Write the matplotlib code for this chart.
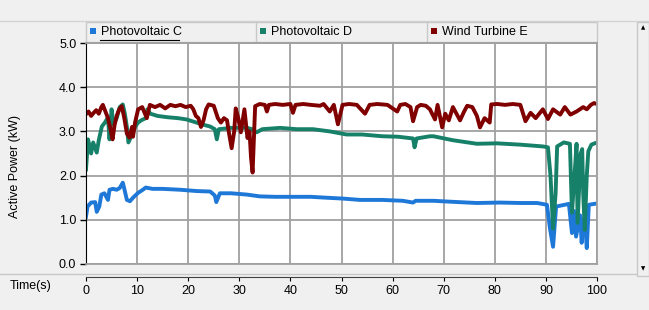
import matplotlib.pyplot as plt
from matplotlib.lines import Line2D
from matplotlib.patches import Rectangle

# Photovoltaic C (blue)
t_pv_c = [0, 0.3, 1, 1.8, 2.1, 2.6, 3, 3.6, 4.3, 4.6, 5.3, 6, 6.6, 7.2, 7.5, 8, 8.6, 9.2,
          10.2, 11, 11.7, 13, 15, 18.4, 21.7, 24.3, 25.2, 25.5, 26.2, 28.4, 31.5, 34, 37,
          40.5, 44, 47, 50.3, 53.6, 58, 62, 64, 64.5, 68, 71.2, 76.5, 81, 85, 88.3, 90.2,
          90.8, 91.4, 92, 94.5, 95.1, 95.5, 95.9, 96.7, 97, 97.3, 97.6, 98, 98.4, 100]
p_pv_c = [1.07, 1.30, 1.39, 1.40, 1.18, 1.30, 1.57, 1.60, 1.45, 1.68, 1.70, 1.68, 1.72, 1.84,
          1.70, 1.45, 1.42, 1.50, 1.61, 1.67, 1.73, 1.70, 1.70, 1.68, 1.65, 1.64, 1.55, 1.40,
          1.60, 1.60, 1.57, 1.53, 1.52, 1.52, 1.52, 1.50, 1.48, 1.45, 1.45, 1.43, 1.39, 1.43,
          1.43, 1.41, 1.38, 1.39, 1.38, 1.38, 1.34, 0.80, 0.39, 1.30, 1.36, 0.70, 1.20, 0.62,
          1.10, 0.48, 1.00, 1.05, 0.36, 1.34, 1.37]

# Photovoltaic D (green)
t_pv_d = [0, 0.4, 1, 1.4, 2.1, 2.5, 3.1, 3.7, 4.3, 4.6, 5, 5.4, 6, 6.6, 7.2, 7.6, 8, 8.3, 9,
          9.6, 10.2, 10.8, 11.7, 12, 12.6, 14, 16, 18, 19.7, 21.6, 23, 24.3, 25.2, 25.6, 26,
          28.4, 31.5, 32.5, 33.4, 34.5, 38, 41.2, 44.4, 47.7, 51, 54, 58, 61, 64, 64.3, 64.7,
          67.3, 68, 71.8, 76.5, 80.4, 85, 89.4, 90.4, 90.9, 91.4, 91.9, 92.2, 93.5, 94.7,
          95.1, 95.6, 96, 96.2, 96.8, 97.1, 97.3, 97.6, 98, 98.3, 98.9, 100]
p_pv_d = [2.14, 2.82, 2.50, 2.75, 2.52, 2.80, 3.11, 3.20, 3.32, 2.82, 3.50, 3.15, 3.30, 3.55,
          3.61, 3.40, 3.10, 2.75, 2.92, 3.10, 3.20, 3.25, 3.30, 3.50, 3.40, 3.35, 3.32, 3.30,
          3.27, 3.20, 3.15, 3.11, 3.05, 2.82, 3.05, 3.08, 3.08, 3.05, 2.98, 3.05, 3.08, 3.05,
          3.05, 3.00, 2.93, 2.93, 2.89, 2.88, 2.84, 2.64, 2.84, 2.89, 2.89, 2.80, 2.72, 2.73,
          2.70, 2.66, 2.64, 2.00, 0.80, 1.60, 2.66, 2.75, 2.72, 1.16, 2.00, 2.72, 0.93, 2.50,
          2.60, 1.60, 0.77, 2.00, 2.55, 2.70, 2.75]

# Wind Turbine E (dark red)
t_wind_e = [0, 0.5, 1, 1.5, 2, 2.5, 3, 3.3, 3.8, 4.3, 4.8, 5.2, 5.6, 6, 6.5, 7, 7.5, 8, 8.5,
            9, 9.2, 9.6, 10.2, 11, 11.9, 12.5, 13.5, 14.5, 15.5, 16.5, 17.5, 18.5, 19.5,
            20.5, 21, 21.5, 22, 22.5, 23, 23.5, 24, 25, 25.8, 26.4, 27, 27.6, 28, 28.5, 29,
            29.3, 29.8, 30.3, 31, 31.6, 32, 32.3, 32.6, 33.1, 34, 35, 35.4, 35.8, 37, 38.5,
            40, 40.5, 41, 42.5, 44, 45.8, 46.5, 47.7, 48.5, 49.3, 50.2, 51.5, 53, 54.6, 55.5,
            57, 59, 60.9, 61.5, 62.5, 63.5, 64, 64.8, 65.5, 66.5, 67.3, 68.3, 68.8, 69.7,
            70.3, 71, 71.8, 72.5, 73.2, 74, 74.6, 75.6, 76.5, 77.1, 78, 79, 79.3, 80.5, 82,
            83.5, 85, 86, 87, 88, 89.4, 90.4, 91.4, 92.8, 93.7, 94.8, 96, 97.3, 98, 98.8,
            99.4, 100]
p_wind_e = [3.39, 3.45, 3.35, 3.42, 3.48, 3.40, 3.55, 3.60, 3.45, 3.30, 3.05, 2.82, 3.15,
            3.35, 3.50, 3.57, 3.30, 2.95, 2.86, 3.10, 2.88, 3.20, 3.50, 3.55, 3.30, 3.60,
            3.55, 3.60, 3.52, 3.60, 3.57, 3.60, 3.55, 3.58, 3.50, 3.35, 3.30, 3.10, 3.25,
            3.50, 3.61, 3.58, 3.30, 3.20, 3.30, 3.25, 2.95, 2.62, 3.00, 3.52, 3.30, 2.98,
            3.50, 2.85, 3.00, 2.40, 2.07, 3.57, 3.62, 3.60, 3.45, 3.60, 3.62, 3.60, 3.62,
            3.42, 3.60, 3.62, 3.60, 3.58, 3.62, 3.45, 3.60, 3.16, 3.60, 3.62, 3.60, 3.40,
            3.60, 3.62, 3.60, 3.45, 3.60, 3.62, 3.55, 3.23, 3.55, 3.60, 3.58, 3.50, 3.27,
            3.60, 3.09, 3.40, 3.25, 3.55, 3.40, 3.25, 3.45, 3.58, 3.55, 3.35, 3.09, 3.30,
            3.20, 3.61, 3.62, 3.60, 3.62, 3.60, 3.23, 3.42, 3.30, 3.50, 3.28, 3.50, 3.38,
            3.55, 3.38, 3.45, 3.55, 3.50, 3.60, 3.64, 3.62]

series_names = ['Photovoltaic C', 'Photovoltaic D', 'Wind Turbine E']
series_colors = ['#1e78d8', '#178069', '#800000']
x_ticks = [0, 10, 20, 30, 40, 50, 60, 70, 80, 90, 100]
y_ticks = [0.0, 1.0, 2.0, 3.0, 4.0, 5.0]

W, H = 649, 310
plt.rcParams['font.family'] = ['Liberation Sans', 'DejaVu Sans']
plt.rcParams['font.size'] = 9

fig = plt.figure(figsize=(W / 100, H / 100), dpi=100, facecolor='#f0f0f0')


def fx(x):
    return x / W


def fy(y):
    return 1 - y / H


# main plot area
ax = fig.add_axes([fx(86), fy(264), fx(597) - fx(86), fy(43) - fy(264)])
ax.set_facecolor('white')
for t, p, c in zip([t_pv_c, t_pv_d, t_wind_e], [p_pv_c, p_pv_d, p_wind_e], series_colors):
    ax.plot(t, p, color=c, lw=2.8, solid_joinstyle='round')
ax.set_xlim(0, 100)
ax.set_ylim(0, 5)
ax.set_xticks(x_ticks)
ax.set_yticks(y_ticks)
ax.set_yticklabels([f'{v:.1f}' for v in y_ticks])
ax.tick_params(axis='x', length=0, labelbottom=False)
ax.tick_params(axis='y', length=4, width=1, pad=3, colors='black')
ax.grid(True, color='#a0a0a0', lw=1.3)
ax.set_axisbelow(True)
for s in ['top', 'right', 'bottom']:
    ax.spines[s].set_color('#a0a0a0')
    ax.spines[s].set_linewidth(1.3)
ax.spines['left'].set_color('black')

fig.text(fx(15), fy(167), 'Active Power (kW)', rotation=90, ha='center', va='center')

# separate time axis below the plot
ax2 = fig.add_axes([fx(86), fy(277), fx(597) - fx(86), 0.0001])
ax2.set_xlim(0, 100)
ax2.set_xticks(x_ticks)
ax2.set_yticks([])
ax2.patch.set_visible(False)
for s in ['top', 'right', 'left']:
    ax2.spines[s].set_visible(False)
ax2.spines['bottom'].set_color('#404040')
ax2.tick_params(axis='x', length=3, pad=3, colors='black')
fig.text(fx(10), fy(286), 'Time(s)', ha='left', va='center')

# frame lines of the window
fig.add_artist(Line2D([0, fx(636)], [fy(274), fy(274)], color='#c8c8c8', lw=1, zorder=-2))
fig.add_artist(Line2D([0, 1], [fy(21), fy(21)], color='#d4d4d4', lw=1, zorder=-2))

# legend bar
cells = [86, 256, 427, 597]
fig.add_artist(Rectangle((fx(86), fy(42)), fx(597) - fx(86), fy(22) - fy(42),
                         transform=fig.transFigure, facecolor='#f0f0f0',
                         edgecolor='#c8c8c8', lw=1, zorder=-1))
for cx in cells[1:-1]:
    fig.add_artist(Line2D([fx(cx), fx(cx)], [fy(22), fy(42)], color='#c8c8c8', lw=1,
                          zorder=-1))
for i, (name, c) in enumerate(zip(series_names, series_colors)):
    x0 = cells[i] + 4
    fig.add_artist(Rectangle((fx(x0), fy(34)), fx(6), fy(28) - fy(34),
                             transform=fig.transFigure, facecolor=c, edgecolor='none'))
    fig.text(fx(x0 + 11), fy(32), name, ha='left', va='center', color='black')
fig.add_artist(Line2D([fx(100), fx(179)], [fy(40), fy(40)], color='black', lw=0.8))

# scrollbar on the right
fig.add_artist(Rectangle((fx(637), fy(276)), fx(12), fy(22) - fy(276),
                         transform=fig.transFigure, facecolor='#f0f0f0',
                         edgecolor='#c8c8c8', lw=1))
fig.text(fx(643), fy(28), '\u25b2', ha='center', va='center', fontsize=4, family='DejaVu Sans')
fig.text(fx(643), fy(269), '\u25bc', ha='center', va='center', fontsize=4, family='DejaVu Sans')

fig.savefig('out.png', dpi=100, facecolor=fig.get_facecolor())
